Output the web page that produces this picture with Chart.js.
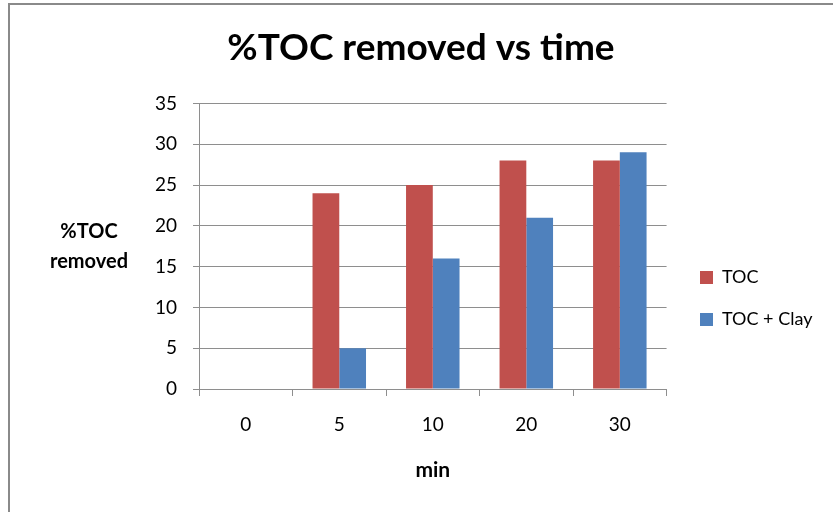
<!DOCTYPE html>
<html>
<head>
<meta charset="utf-8">
<script src="https://cdn.jsdelivr.net/npm/chart.js@4"></script>
<style>
  body { margin: 0; background: #fff; }
  #wrap { width: 833px; height: 512px; }
</style>
</head>
<body>
<div id="wrap"><canvas id="tocChart" width="833" height="512"></canvas></div>
<script>
// dati
var minutes = ['0', '5', '10', '20', '30'];
var tocValues = [0, 24, 25, 28, 28];
var tocClayValues = [0, 5, 16, 21, 29];
var yTicks = [0, 5, 10, 15, 20, 25, 30, 35];

var FONT = 'Lato, "Open Sans", sans-serif';
var GRID = '#8e8e8e';

// cornice, legenda spostata e titolo asse Y orizzontale
var extras = {
    id: 'extras',
    afterLayout: function (chart) {
        var lg = chart.legend;
        var dx = 676 - lg.left;
        var dy = 48;
        lg.left += dx; lg.right += dx;
        lg.top += dy; lg.bottom += dy;
    },
    beforeDraw: function (chart) {
        var c = chart.ctx;
        c.save();
        c.fillStyle = '#fff';
        c.fillRect(0, 0, chart.width, chart.height);
        c.strokeStyle = '#8a8a8a';
        c.lineWidth = 2;
        c.beginPath();
        c.moveTo(9, chart.height);
        c.lineTo(9, 4);
        c.lineTo(chart.width, 4);
        c.stroke();
        c.restore();
    },
    afterDraw: function (chart) {
        var c = chart.ctx;
        var a = chart.chartArea;
        var mid = (a.top + a.bottom) / 2;
        c.save();
        c.font = 'bold 20px ' + FONT;
        c.fillStyle = '#000';
        c.textAlign = 'center';
        c.textBaseline = 'middle';
        c.fillText('%TOC', 89, mid - 15);
        c.fillText('removed', 89, mid + 15);
        c.restore();
    }
};

var ctx = document.getElementById('tocChart').getContext('2d');
var tocChart = new Chart(ctx, {
    type: 'bar',
    data: {
        labels: minutes,
        datasets: [{
            label: 'TOC',
            data: tocValues,
            backgroundColor: '#C0504D'
        }, {
            label: 'TOC + Clay',
            data: tocClayValues,
            backgroundColor: '#4F81BD'
        }]
    },
    options: {
        responsive: false,
        animation: false,
        categoryPercentage: 0.572,
        barPercentage: 1,
        layout: { padding: { top: 18, right: 20, bottom: 29, left: 29 } },
        plugins: {
            title: {
                display: true,
                text: '%TOC removed vs time',
                color: '#000',
                font: { family: FONT, size: 37, weight: 'bold' },
                padding: { top: 8, bottom: 33 }
            },
            legend: {
                position: 'right',
                labels: {
                    color: '#000',
                    font: { family: FONT, size: 18 },
                    boxWidth: 13,
                    boxHeight: 13,
                    padding: 24
                }
            },
            tooltip: { enabled: false }
        },
        scales: {
            x: {
                grid: {
                    offset: true,
                    drawOnChartArea: false,
                    drawTicks: true,
                    tickLength: 7,
                    color: GRID
                },
                border: { color: GRID },
                ticks: { color: '#000', font: { family: FONT, size: 19 }, padding: 17 },
                title: {
                    display: true,
                    text: 'min',
                    color: '#000',
                    font: { family: FONT, size: 21, weight: 'bold' },
                    padding: { top: 5, bottom: 0 }
                }
            },
            y: {
                min: 0,
                max: 35,
                afterBuildTicks: function (scale) {
                    scale.ticks = yTicks.map(function (v) { return { value: v }; });
                },
                afterFit: function (scale) { scale.width = 170; },
                grid: { color: GRID, tickLength: 6 },
                border: { color: GRID },
                ticks: { color: '#000', font: { family: FONT, size: 19 }, padding: 16 }
            }
        }
    },
    plugins: [extras]
});
</script>
</body>
</html>
